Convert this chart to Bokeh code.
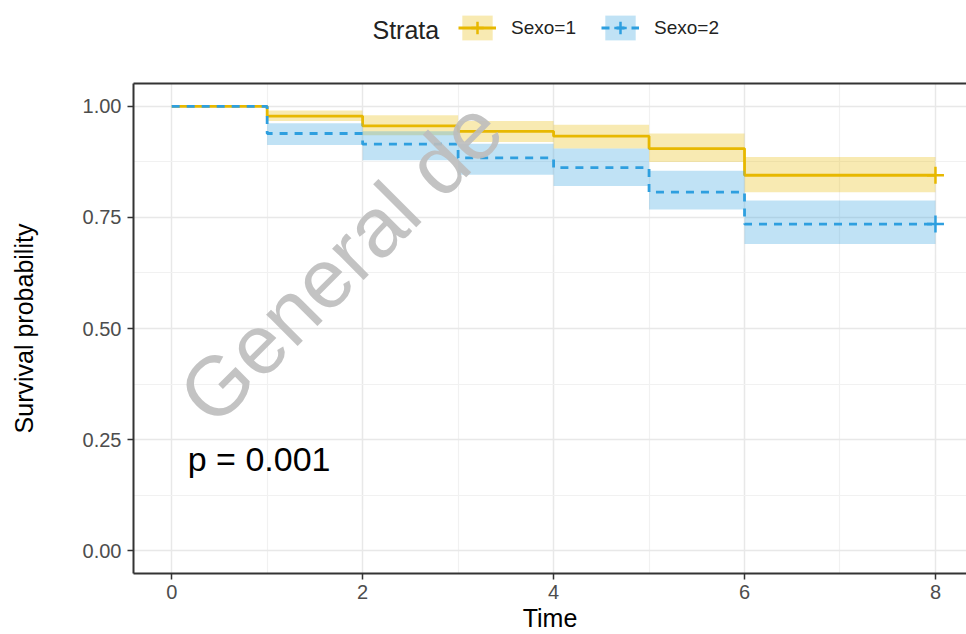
from bokeh.plotting import figure
from bokeh.layouts import column
from bokeh.models import (Range1d, FixedTicker, LinearAxis, Legend, LegendItem, Label,
                          ColumnDataSource)
from bokeh.embed import file_html
from bokeh.resources import INLINE

# ---- data ----
times = [0, 1, 2, 3, 4, 5, 6, 8]                # step change points (last = end of follow-up)
strata = ["Sexo=1", "Sexo=2"]

surv_1 = [1.000, 0.978, 0.956, 0.944, 0.933, 0.905, 0.845]
lower_1 = [1.000, 0.967, 0.935, 0.920, 0.905, 0.875, 0.807]
upper_1 = [1.000, 0.991, 0.980, 0.967, 0.959, 0.939, 0.886]

surv_2 = [1.000, 0.939, 0.915, 0.884, 0.862, 0.807, 0.735]
lower_2 = [1.000, 0.913, 0.879, 0.846, 0.821, 0.768, 0.690]
upper_2 = [1.000, 0.962, 0.944, 0.916, 0.905, 0.855, 0.788]

censor_time = [8]
censor_1 = [0.845]
censor_2 = [0.735]

x_ticks = [0, 2, 4, 6, 8]
x_minor = [1, 3, 5, 7]
y_ticks = [0.0, 0.25, 0.5, 0.75, 1.0]
y_tick_labels = ["0.00", "0.25", "0.50", "0.75", "1.00"]
y_minor = [0.125, 0.375, 0.625, 0.875]

legend_title = "Strata"
pval_text = "p = 0.001"
watermark_text = "General de"

colors = ["#E7B800", "#2E9FDF"]
dashes = ["solid", "8 7"]
FONT = "Liberation Sans"

W, H = 966, 634
LEFT = 133          # left border shared by both stacked figures (their frames are aligned)
LH = 81             # height of the legend strip

def band_source(lo, hi):
    return ColumnDataSource(dict(left=times[:-1], right=times[1:], bottom=lo, top=hi))

series = [(surv_1, lower_1, upper_1, censor_1), (surv_2, lower_2, upper_2, censor_2)]

def draw_series(fig, s, lo, hi, cens, col, dash):
    q = fig.quad(left="left", right="right", bottom="bottom", top="top", source=band_source(lo, hi),
                 fill_color=col, fill_alpha=0.3, line_color=None)
    ln = fig.step(x=times, y=s + [s[-1]], mode="after", line_color=col, line_width=2.8, line_dash=dash)
    cr = fig.scatter(x=censor_time, y=cens, marker="cross", size=17, line_color=col, line_width=2.5)
    return [q, ln, cr]

# ---------------- legend strip (top) ----------------
# the strip's frame is aligned with the main frame (starts at LEFT); its ranges are in pixels,
# so the series drawn here fall outside its view and only serve as legend swatches
lf = figure(width=W, height=LH, output_backend="svg", toolbar_location=None,
            x_range=Range1d(LEFT, W), y_range=Range1d(0, LH),
            min_border_left=LEFT, min_border_right=0, min_border_top=0, min_border_bottom=0)
lf.axis.visible = False
lf.grid.visible = False
lf.outline_line_color = None

items = []
for (s, lo, hi, cens), col, dash, name in zip(series, colors, dashes, strata):
    items.append(LegendItem(label=name, renderers=draw_series(lf, s, lo, hi, cens, col, dash)))

legend = Legend(items=items, orientation="horizontal", location=(458 - LEFT, LH - 43),
                label_text_font=FONT, label_text_font_size="19px", label_text_color="#222222",
                glyph_width=38, glyph_height=31, label_standoff=15, spacing=25,
                padding=0, margin=0, border_line_color=None, background_fill_alpha=0)
lf.add_layout(legend, "center")
lf.add_layout(Label(x=372, y=LH - 29, text=legend_title, text_font=FONT, text_font_size="25px",
                    text_align="left", text_baseline="middle", text_color="#222222"))

# ---------------- main plot ----------------
p = figure(width=W, height=H - LH, output_backend="svg", toolbar_location=None,
           x_range=Range1d(-0.4, 8.325), y_range=Range1d(-0.0516, 1.0516),
           min_border_left=LEFT, min_border_right=0, min_border_top=2, min_border_bottom=59)
p.outline_line_color = None
p.background_fill_color = "white"

p.xaxis.ticker = FixedTicker(ticks=x_ticks, minor_ticks=x_minor)
p.yaxis.ticker = FixedTicker(ticks=y_ticks, minor_ticks=y_minor)
p.yaxis.major_label_overrides = {t: l for t, l in zip(y_ticks, y_tick_labels)}
for g in (p.xgrid, p.ygrid):
    g.grid_line_color = "#E8E8E8"
    g.grid_line_width = 1.5
    g.minor_grid_line_color = "#F1F1F1"
    g.minor_grid_line_width = 1.2

for ax in (p.xaxis, p.yaxis):
    ax.axis_line_color = "#333333"
    ax.axis_line_width = 2
    ax.major_tick_line_color = "#333333"
    ax.major_tick_line_width = 1.5
    ax.major_tick_out = 6
    ax.major_tick_in = 0
    ax.minor_tick_line_color = None
    ax.major_label_text_font = FONT
    ax.major_label_text_font_size = "20px"
    ax.major_label_text_color = "#4D4D4D"
    ax.axis_label_text_font = FONT
    ax.axis_label_text_font_size = "25px"
    ax.axis_label_text_font_style = "normal"
    ax.axis_label_text_color = "black"
p.xaxis.axis_label = "Time"
p.xaxis.major_label_standoff = 5
p.xaxis.axis_label_standoff = 2
p.yaxis.axis_label = "Survival probability"
p.yaxis.major_label_standoff = 6
p.yaxis.axis_label_standoff = 42

top_axis = LinearAxis(ticker=FixedTicker(ticks=[]), axis_line_color="#333333", axis_line_width=2,
                      major_tick_line_color=None, minor_tick_line_color=None,
                      major_tick_out=0, major_label_standoff=0,
                      major_label_text_font_size="0px")
p.add_layout(top_axis, "above")

for (s, lo, hi, cens), col, dash in zip(series, colors, dashes):
    draw_series(p, s, lo, hi, cens, col, dash)

p.add_layout(Label(x=0.168, y=0.206, text=pval_text, text_font=FONT, text_font_size="34px",
                   text_align="left", text_baseline="middle", text_color="black"))

p.add_layout(Label(x=1.77, y=0.65, text=watermark_text, angle=45, angle_units="deg",
                   text_font=FONT, text_font_size="84px", text_align="center",
                   text_baseline="middle", text_color="#BDBDBD", text_alpha=0.9))

layout = column(lf, p, spacing=0)
open("out.html", "w").write(file_html(layout, INLINE))
